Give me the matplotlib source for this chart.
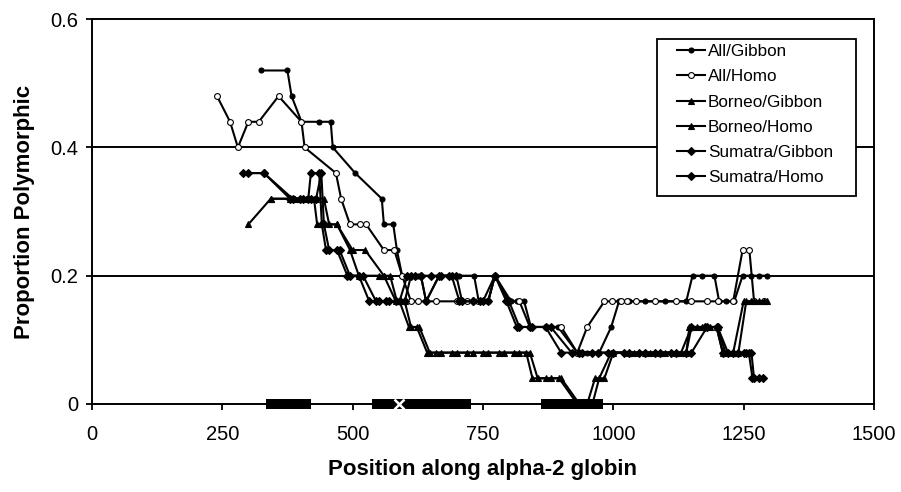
import matplotlib
matplotlib.use("Agg")
import matplotlib.pyplot as plt
from matplotlib.patches import Rectangle

plt.rcParams['font.family'] = ['Liberation Sans', 'DejaVu Sans']

# ---------------- data ----------------
all_gibbon_x = [325, 375, 383, 402, 435, 458, 462, 505, 556, 560, 578, 585, 595, 610, 625, 631, 641,
                666, 690, 705, 733, 742, 760, 773, 804, 816, 829, 842, 871, 894, 931, 950, 973, 996,
                1011, 1030, 1060, 1100, 1140, 1152, 1170, 1194, 1203, 1217, 1232, 1248, 1265, 1280, 1295]
all_gibbon_y = [.52, .52, .48, .44, .44, .44, .40, .36, .32, .28, .28, .24, .20, .20, .20, .20, .16,
                .20, .20, .20, .20, .16, .16, .20, .16, .16, .16, .12, .12, .12, .08, .08, .08, .12,
                .16, .16, .16, .16, .16, .20, .20, .20, .16, .16, .16, .20, .20, .20, .20]

all_homo_x = [240, 265, 280, 300, 320, 358, 402, 408, 468, 478, 495, 514, 526, 560, 580, 595, 612,
              625, 640, 660, 700, 720, 740, 760, 773, 800, 820, 840, 870, 900, 931, 950, 983, 998,
              1015, 1027, 1044, 1080, 1120, 1150, 1180, 1200, 1230, 1248, 1261, 1270, 1290]
all_homo_y = [.48, .44, .40, .44, .44, .48, .44, .40, .36, .32, .28, .28, .28, .24, .24, .20, .16,
              .16, .16, .16, .16, .16, .16, .16, .20, .16, .16, .12, .12, .12, .08, .12, .16, .16,
              .16, .16, .16, .16, .16, .16, .16, .16, .16, .24, .24, .16, .16]

borneo_gibbon_x = [300, 343, 380, 400, 426, 432, 441, 470, 495, 512, 551, 560, 583, 590, 608, 623,
                   643, 660, 690, 720, 750, 780, 810, 833, 845, 871, 896, 931, 945, 960, 973, 996,
                   1030, 1060, 1090, 1120, 1140, 1146, 1170, 1198, 1210, 1230, 1250, 1265, 1280, 1295]
borneo_gibbon_y = [.28, .32, .32, .32, .32, .28, .28, .28, .24, .20, .20, .20, .16, .16, .12, .12,
                   .08, .08, .08, .08, .08, .08, .08, .08, .04, .04, .04, 0, 0, 0, .04, .08,
                   .08, .08, .08, .08, .08, .12, .12, .12, .08, .08, .16, .16, .16, .16]

borneo_homo_x = [343, 390, 410, 430, 445, 455, 470, 500, 524, 560, 572, 585, 600, 612, 628,
                 648, 670, 700, 730, 760, 790, 820, 840, 855, 880, 900, 935, 950, 965, 983, 1000,
                 1040, 1070, 1100, 1130, 1150, 1160, 1185, 1200, 1215, 1240, 1255, 1270, 1290]
borneo_homo_y = [.32, .32, .32, .32, .32, .28, .28, .24, .24, .20, .20, .16, .16, .12, .12,
                 .08, .08, .08, .08, .08, .08, .08, .08, .04, .04, .04, 0, 0, .04, .04, .08,
                 .08, .08, .08, .08, .12, .12, .12, .12, .08, .08, .16, .16, .16]

sumatra_gibbon_x = [290, 330, 380, 400, 415, 420, 436, 441, 449, 470, 490, 512, 532, 550, 570, 583,
                    600, 612, 631, 641, 666, 685, 699, 710, 730, 745, 760, 773, 800, 820, 840, 870,
                    900, 935, 960, 990, 1020, 1050, 1080, 1110, 1140, 1150, 1175, 1198, 1210, 1230,
                    1250, 1260, 1267, 1288]
sumatra_gibbon_y = [.36, .36, .32, .32, .32, .36, .36, .28, .24, .24, .20, .20, .16, .16, .16, .16,
                    .16, .20, .20, .16, .20, .20, .20, .16, .16, .16, .16, .20, .16, .12, .12, .12,
                    .08, .08, .08, .08, .08, .08, .08, .08, .08, .12, .12, .12, .08, .08,
                    .08, .08, .04, .04]

sumatra_homo_x = [300, 330, 385, 405, 420, 430, 440, 445, 455, 475, 495, 520, 545, 565, 590, 605,
                  620, 631, 650, 670, 690, 705, 730, 750, 773, 795, 815, 845, 880, 920, 940, 970,
                  1000, 1030, 1060, 1090, 1120, 1150, 1180, 1200, 1220, 1240, 1255, 1265, 1270, 1280]
sumatra_homo_y = [.36, .36, .32, .32, .32, .32, .36, .28, .24, .24, .20, .20, .16, .16, .16, .20,
                  .20, .20, .20, .20, .20, .16, .16, .16, .20, .16, .12, .12, .12, .08, .08, .08,
                  .08, .08, .08, .08, .08, .08, .12, .12, .08, .08, .08, .08, .04, .04]

exon_starts = [333, 537, 862]
exon_ends = [421, 728, 981]
star_x = [589]

series = [
    ("All/Gibbon", all_gibbon_x, all_gibbon_y, dict(marker='o', mfc='black', ms=3.6)),
    ("All/Homo", all_homo_x, all_homo_y, dict(marker='o', mfc='white', ms=4.2)),
    ("Borneo/Gibbon", borneo_gibbon_x, borneo_gibbon_y, dict(marker='^', mfc='black', ms=4.8)),
    ("Borneo/Homo", borneo_homo_x, borneo_homo_y, dict(marker='^', mfc='black', ms=4.8)),
    ("Sumatra/Gibbon", sumatra_gibbon_x, sumatra_gibbon_y, dict(marker='D', mfc='black', ms=3.6)),
    ("Sumatra/Homo", sumatra_homo_x, sumatra_homo_y, dict(marker='D', mfc='black', ms=3.6)),
]

# ---------------- figure ----------------
fig = plt.figure(figsize=(9.01, 4.92), dpi=100)
ax = fig.add_axes([0.102, 0.179, 0.868, 0.782])

for yv in [0.2, 0.4]:
    ax.axhline(yv, color='black', lw=1.4, zorder=1)

for s, e in zip(exon_starts, exon_ends):
    ax.plot([s, e], [0, 0], color='black', lw=7.2, solid_capstyle='butt', zorder=2, clip_on=False)
ax.plot(star_x, [0], marker='x', color='white', ms=7, mew=1.8, ls='none', zorder=3, clip_on=False)

for label, xs, ys, st in series:
    ax.plot(xs, ys, color='black', lw=1.5, mec='black', mew=0.8, label=label, zorder=4,
            clip_on=False, **st)

ax.set_xlim(0, 1500)
ax.set_ylim(0, 0.6)
ax.set_xticks([0, 250, 500, 750, 1000, 1250, 1500])
ax.set_yticks([0, 0.2, 0.4, 0.6])
ax.set_yticklabels(['0', '0.2', '0.4', '0.6'])
ax.tick_params(axis='both', labelsize=14.5, direction='out', length=4, width=1.3, colors='black')
ax.tick_params(axis='x', pad=11)
ax.tick_params(axis='y', pad=6)
for sp in ax.spines.values():
    sp.set_linewidth(1.4)
    sp.set_color('black')

ax.set_xlabel('Position along alpha-2 globin', fontsize=16, fontweight='bold', labelpad=11)
ax.set_ylabel('Proportion Polymorphic', fontsize=16, fontweight='bold', labelpad=11)

# legend box drawn as a frame patch, entries placed inside it
ax.add_patch(Rectangle((657 / 901, 1 - 196 / 492), 199 / 901, 157 / 492,
                       transform=fig.transFigure, facecolor='white', edgecolor='black',
                       lw=1.3, zorder=5, clip_on=False))
leg = ax.legend(loc='upper left', bbox_to_anchor=(0.748, 0.935), fontsize=12.3,
                frameon=False, handlelength=1.64, handletextpad=0.18, borderpad=0,
                labelspacing=0.6, borderaxespad=0)
leg.set_zorder(6)

fig.savefig('out.png', dpi=100)
